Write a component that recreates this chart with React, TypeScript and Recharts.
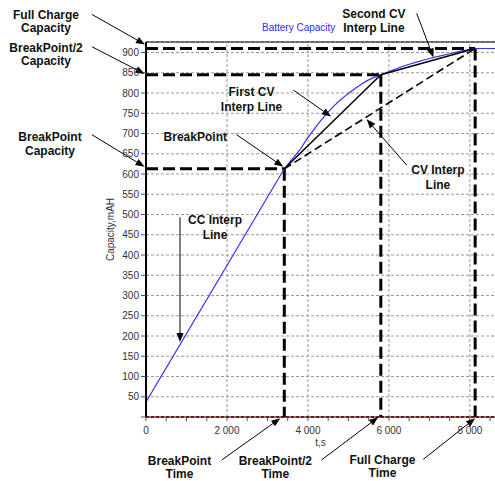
import React from "react"
import { LineChart, Line, XAxis, YAxis, CartesianGrid, ReferenceLine, ReferenceDot } from "recharts"

// battery capacity curve: t in s, capacity in mAH
const timeS = [0, 3416, 3610, 3804, 3970, 4132, 4300, 4463, 4630, 4792, 4960, 5120, 5290, 5451, 5620, 5800, 6100, 6400, 6700, 6950, 7250, 7500, 7800, 8130, 8620]
const capacityMah = [37, 613, 637, 660, 686, 708, 730, 749, 767, 782, 796, 808, 820, 830, 838, 845, 857, 868, 877, 884, 891, 897, 904, 910, 910]

// interpolation key points [t, capacity]
const breakPoint = [3416, 613]
const halfPoint = [5800, 845]
const fullPoint = [8130, 910]

const xTicks = [0, 500, 1000, 1500, 2000, 2500, 3000, 3500, 4000, 4500, 5000, 5500, 6000, 6500, 7000, 7500, 8000, 8500]
const xGridTicks = [2000, 4000, 6000, 8000]
const yTicks = [0, 50, 100, 150, 200, 250, 300, 350, 400, 450, 500, 550, 600, 650, 700, 750, 800, 850, 900]
const xDomain = [0, 8620]
const yDomain = [0, 926]

const W = 495
const H = 481
const FONT = "'Liberation Sans', Arial, sans-serif"

const curve = timeS.map((t, i) => ({ t, c: capacityMah[i] }))
const seg = (a: number[], b: number[]) => [{ t: a[0], c: a[1] }, { t: b[0], c: b[1] }]

// callouts: anchor in data units, the rest are pixel offsets from the anchor
interface Note {
  at: number[]
  lines: string[]
  tail: number[]
  tip?: number[]
  text: number[]
  gap: number
}

const notes: Note[] = [
  { at: [0, fullPoint[1]], lines: ["Full Charge", "Capacity"], tail: [-54, -34], tip: [-1, -4], text: [-100, -29], gap: 13 },
  { at: [0, halfPoint[1]], lines: ["BreakPoint/2", "Capacity"], tail: [-54, -28], tip: [-1.5, -1], text: [-100, -23], gap: 13.5 },
  { at: [0, breakPoint[1]], lines: ["BreakPoint", "Capacity"], tail: [-54, -34], tip: [-1.5, -2], text: [-96, -27.5], gap: 14 },
  { at: breakPoint, lines: ["BreakPoint"], tail: [-47.6, -34], tip: [-1, -2], text: [-89, -27.5], gap: 14 },
  { at: [4570, 742], lines: ["First CV", "Interp Line"], tail: [-37.7, -26.5], text: [-79.5, -21], gap: 15 },
  { at: [7100, 888], lines: ["Second CV", "Interp Line"], tail: [-16.8, -44], text: [-59.5, -39], gap: 14 },
  { at: [5450, 735], lines: ["CV Interp", "Line"], tail: [40, 45.7], text: [71.3, 54.3], gap: 15 },
  { at: [840, 185], lines: ["CC Interp", "Line"], tail: [0, -124.8], text: [35, -118.5], gap: 15 },
  { at: [breakPoint[0], 0], lines: ["BreakPoint", "Time"], tail: [-62.6, 43], tip: [-4, 1.3], text: [-104.8, 47.5], gap: 13.5 },
  { at: [halfPoint[0], 0], lines: ["BreakPoint/2", "Time"], tail: [-59.3, 43], tip: [-2.7, 0.3], text: [-105.5, 47.5], gap: 13.5 },
  { at: [fullPoint[0], 0], lines: ["Full Charge", "Time"], tail: [-51.9, 42.3], tip: [0, 1.3], text: [-92.7, 46.5], gap: 13.5 },
]

function noteShape(note: Note) {
  return (props: any) => {
    const { cx, cy } = props
    const x1 = cx + note.tail[0]
    const y1 = cy + note.tail[1]
    const x2 = cx + (note.tip ? note.tip[0] : 0)
    const y2 = cy + (note.tip ? note.tip[1] : 0)
    const ang = Math.atan2(y2 - y1, x2 - x1)
    const len = 9
    const half = 3.5
    const bx = x2 - len * Math.cos(ang)
    const by = y2 - len * Math.sin(ang)
    const pts = `${x2},${y2} ${bx - half * Math.sin(ang)},${by + half * Math.cos(ang)} ${bx + half * Math.sin(ang)},${by - half * Math.cos(ang)}`
    return (
      <g>
        <line x1={x1} y1={y1} x2={bx} y2={by} stroke="#000" strokeWidth={1} />
        <polygon points={pts} fill="#000" />
        {note.lines.map((s, i) => (
          <text
            key={i}
            x={cx + note.text[0]}
            y={cy + note.text[1] + i * note.gap}
            textAnchor="middle"
            fontWeight="bold"
            fontSize={12}
            fill="#111"
            fontFamily={FONT}
          >
            {s}
          </text>
        ))}
      </g>
    )
  }
}

const fmtX = (v: number) => {
  if (v % 2000 !== 0) return ""
  if (v === 0) return "0"
  return `${Math.floor(v / 1000)} ${String(v % 1000).padStart(3, "0")}`
}

const bigDash = { stroke: "#000", strokeWidth: 3, strokeDasharray: "12 5" }

export default function App() {
  return (
    <div style={{ position: "absolute", left: 0, top: 0, width: W, height: H, background: "#fff", fontFamily: FONT }}>
      <LineChart width={W} height={H} data={curve} margin={{ top: 42, right: 0, left: 106, bottom: 34 }}>
        <CartesianGrid vertical={false} stroke="#9a9a9a" strokeDasharray="3 2" />
        {xGridTicks.map((v) => (
          <ReferenceLine key={v} x={v} stroke="#9a9a9a" strokeDasharray="3 2" />
        ))}
        <XAxis
          dataKey="t"
          type="number"
          domain={xDomain}
          ticks={xTicks}
          interval={0}
          allowDataOverflow
          tickFormatter={fmtX}
          tickSize={4}
          tickMargin={6}
          height={30}
          stroke="#000"
          tick={{ fill: "#333", fontSize: 10 }}
          tickLine={{ stroke: "#555" }}
          label={(p: any) => (
            <text x={p.viewBox.x + p.viewBox.width / 2} y={p.viewBox.y + 29} textAnchor="middle" fontSize={10} fill="#333">
              t,s
            </text>
          )}
        />
        <YAxis
          type="number"
          domain={yDomain}
          ticks={yTicks}
          interval={0}
          allowDataOverflow
          tickFormatter={(v: number) => (v === 0 ? "" : String(v))}
          width={40}
          tickSize={5}
          tickMargin={2}
          axisLine={{ stroke: "#000", strokeWidth: 2 }}
          tickLine={{ stroke: "#555" }}
          tick={{ fill: "#333", fontSize: 10 }}
          label={(p: any) => {
            const x = p.viewBox.x + 8
            const y = p.viewBox.y + p.viewBox.height / 2
            return (
              <text x={x} y={y} transform={`rotate(-90, ${x}, ${y})`} textAnchor="middle" fontSize={10} fill="#333">
                Capacity,mAH
              </text>
            )
          }}
        />
        <ReferenceLine y={yDomain[1]} stroke="#000" strokeWidth={1} />
        <ReferenceLine y={0} stroke="#e00000" strokeWidth={1.5} strokeDasharray="3 2" />

        {/* construction lines: capacity levels and their times */}
        {[breakPoint, halfPoint, fullPoint].map((p, i) => (
          <ReferenceLine key={`h${i}`} segment={[{ x: 0, y: p[1] }, { x: p[0], y: p[1] }]} {...bigDash} />
        ))}
        {[breakPoint, halfPoint, fullPoint].map((p, i) => (
          <ReferenceLine key={`v${i}`} segment={[{ x: p[0], y: p[1] }, { x: p[0], y: 0 }]} {...bigDash} />
        ))}

        <Line data={seg(breakPoint, fullPoint)} dataKey="c" stroke="#000" strokeWidth={1.6} strokeDasharray="8 4" dot={false} isAnimationActive={false} />
        <Line data={curve} dataKey="c" stroke="#3333f0" strokeWidth={1.2} dot={false} isAnimationActive={false} type="linear" />
        <Line data={seg(breakPoint, halfPoint)} dataKey="c" stroke="#000" strokeWidth={1.5} dot={false} isAnimationActive={false} />
        <Line data={seg(halfPoint, fullPoint)} dataKey="c" stroke="#000" strokeWidth={1.5} dot={false} isAnimationActive={false} />

        {notes.map((n, i) => (
          <ReferenceDot key={i} x={n.at[0]} y={n.at[1]} r={0} ifOverflow="visible" shape={noteShape(n)} />
        ))}
      </LineChart>
      <div style={{ position: "absolute", left: 262, top: 22, fontSize: 10, color: "#2a2aff", whiteSpace: "nowrap" }}>
        Battery Capacity
      </div>
    </div>
  )
}
